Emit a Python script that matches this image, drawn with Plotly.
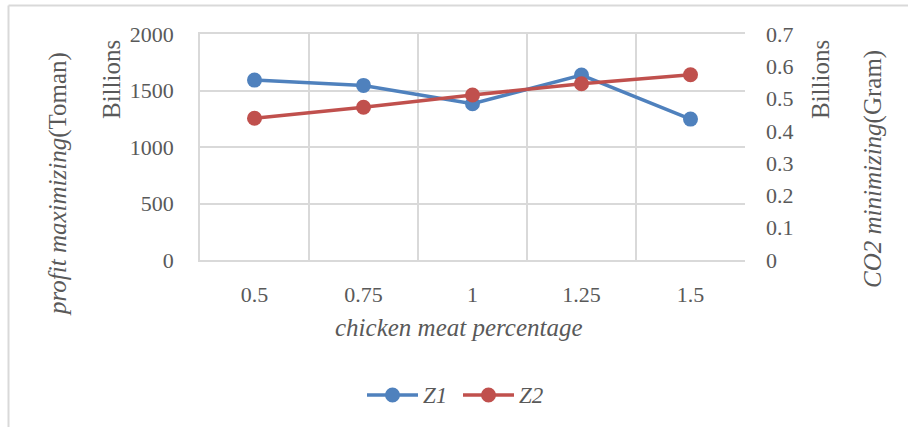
import plotly.graph_objects as go

# chicken meat percentage levels
categories = ["0.5", "0.75", "1", "1.25", "1.5"]
# Z1: profit maximizing, billions of Toman
z1_profit = [1592, 1545, 1383, 1637, 1247]
# Z2: CO2 minimizing, billions of grams
z2_co2 = [0.439, 0.473, 0.511, 0.546, 0.574]

left_ticks = [0, 500, 1000, 1500, 2000]
right_ticks = [0, 0.1, 0.2, 0.3, 0.4, 0.5, 0.6, 0.7]
series_names = ["Z1", "Z2"]

W, H = 908, 427
ML, MR, MT, MB = 200, 163, 34, 167
PW, PH = W - ML - MR, H - MT - MB

BLUE = "#4F81BD"
RED = "#C0504D"
GRID = "#D9D9D9"
TXT = "#595959"
FONT = "Liberation Serif, Times New Roman, serif"


def px(x):
    return (x - ML) / PW


def py(y):
    return (H - MB - y) / PH


fig = go.Figure()
fig.add_trace(go.Scatter(
    x=categories, y=z1_profit, name=series_names[0], mode="lines+markers",
    line=dict(color=BLUE, width=3.5), marker=dict(color=BLUE, size=15),
    yaxis="y", showlegend=False,
))
fig.add_trace(go.Scatter(
    x=categories, y=z2_co2, name=series_names[1], mode="lines+markers",
    line=dict(color=RED, width=3.5), marker=dict(color=RED, size=15),
    yaxis="y2", showlegend=False,
))

fig.update_layout(
    width=W, height=H,
    margin=dict(l=ML, r=MR, t=MT, b=MB, pad=0),
    paper_bgcolor="white", plot_bgcolor="white",
    font=dict(family=FONT, size=22, color=TXT),
    xaxis=dict(
        type="category", range=[-0.5, 4.5], tickson="boundaries",
        showgrid=True, gridcolor=GRID, gridwidth=1.5,
        showline=True, linecolor=GRID, linewidth=1.5, mirror=True,
        ticks="", ticklabelstandoff=14,
        tickfont=dict(size=22, color=TXT), zeroline=False,
    ),
    yaxis=dict(
        range=[0, 2000], tickvals=left_ticks,
        showgrid=True, gridcolor=GRID, gridwidth=1.5,
        showline=True, linecolor=GRID, linewidth=1.5,
        ticks="", ticklabelstandoff=20, zeroline=False,
        tickfont=dict(size=22, color=TXT),
    ),
    yaxis2=dict(
        range=[0, 0.7], tickvals=right_ticks,
        overlaying="y", side="right",
        showgrid=False, showline=False, ticks="", ticklabelstandoff=20,
        zeroline=False, tickfont=dict(size=22, color=TXT),
    ),
)

ann = dict(xref="paper", yref="paper", showarrow=False)
title_font = dict(family=FONT, size=25, color=TXT)
fig.add_annotation(text="<i>chicken meat percentage</i>", x=px(459), y=py(327),
                   xanchor="center", yanchor="middle", font=title_font, **ann)
fig.add_annotation(text="<i>profit maximizing</i>(Toman)", x=px(58), y=py(184),
                   xanchor="center", yanchor="middle", textangle=-90,
                   font=title_font, **ann)
fig.add_annotation(text="Billions", x=px(111), y=py(80),
                   xanchor="center", yanchor="middle", textangle=-90,
                   font=title_font, **ann)
fig.add_annotation(text="Billions", x=px(820), y=py(80),
                   xanchor="center", yanchor="middle", textangle=-90,
                   font=title_font, **ann)
fig.add_annotation(text="<i>CO2 minimizing</i>(Gram)", x=px(873), y=py(169),
                   xanchor="center", yanchor="middle", textangle=-90,
                   font=title_font, **ann)

# legend drawn as line + dot + italic label for each series
legend_y = 395
for name, color, x_start in zip(series_names, [BLUE, RED], [367, 463]):
    fig.add_shape(type="line", xref="paper", yref="paper",
                  x0=px(x_start), x1=px(x_start + 51), y0=py(legend_y), y1=py(legend_y),
                  line=dict(color=color, width=3.5))
    cx = x_start + 25.5
    fig.add_shape(type="circle", xref="paper", yref="paper",
                  x0=px(cx - 7.5), x1=px(cx + 7.5),
                  y0=py(legend_y + 7.5), y1=py(legend_y - 7.5),
                  fillcolor=color, line=dict(color=color, width=0))
    fig.add_annotation(text=f"<i>{name}</i>", x=px(x_start + 54), y=py(legend_y),
                       xanchor="left", yanchor="middle",
                       font=dict(family=FONT, size=23, color=TXT), **ann)

# chart-area frame (left and top edges fall inside the page)
fig.add_shape(type="line", xref="paper", yref="paper",
              x0=px(8.5), x1=px(8.5), y0=py(5.5), y1=py(440),
              line=dict(color=GRID, width=2))
fig.add_shape(type="line", xref="paper", yref="paper",
              x0=px(8.5), x1=px(920), y0=py(5.5), y1=py(5.5),
              line=dict(color=GRID, width=2))

fig.write_html("out.html")
